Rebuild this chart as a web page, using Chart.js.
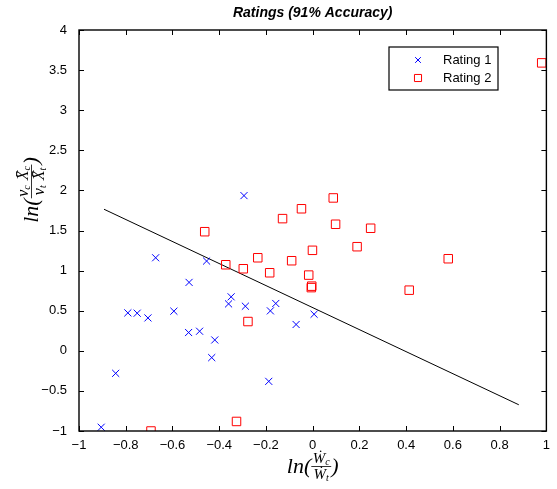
<!DOCTYPE html>
<html>
<head>
<meta charset="utf-8">
<script src="https://cdn.jsdelivr.net/npm/chart.js@4.4.1/dist/chart.umd.min.js"></script>
<style>
html, body { margin: 0; padding: 0; background: #fff; }
</style>
</head>
<body>
<canvas id="graph" width="557" height="489"></canvas>
<script>
// Rating 1 (blue crosses)
const rating1X = [-0.905, -0.843, -0.791, -0.751, -0.705, -0.672, -0.594, -0.531, -0.529, -0.484, -0.454,
                  -0.432, -0.419, -0.360, -0.349, -0.294, -0.288, -0.188, -0.181, -0.158, -0.071, 0.006];
const rating1Y = [-0.953, -0.281, 0.473, 0.469, 0.410, 1.160, 0.494, 0.228, 0.853, 0.244, 1.119,
                  -0.085, 0.135, 0.585, 0.673, 1.935, 0.556, -0.381, 0.498, 0.590, 0.328, 0.456];

// Rating 2 (red squares)
const rating2X = [-0.692, -0.326, -0.277, -0.462, -0.372, -0.297, -0.235, -0.184, -0.129, -0.090, -0.048,
                  -0.017, -0.006, -0.004, -0.001, 0.088, 0.098, 0.190, 0.248, 0.413, 0.580, 0.980];
const rating2Y = [-1.000, -0.881, 0.365, 1.485, 1.073, 1.023, 1.160, 0.973, 1.648, 1.123, 1.771,
                  0.944, 0.788, 0.806, 1.253, 1.906, 1.578, 1.298, 1.528, 0.756, 1.148, 3.590];

// separating line
const lineX = [-0.893, 0.882];
const lineY = [1.765, -0.673];

const seriesLabels = ['Rating 1', 'Rating 2'];
const titleText = 'Ratings (91% Accuracy)';

const toPoints = (xs, ys) => xs.map((v, i) => ({ x: v, y: ys[i] }));
const fmt = v => {
    const r = Math.round(v * 10) / 10;
    return String(r).replace('-', '\u2212');
};

// draws pieces of text one after another, returns total width
function runWidth(ctx, runs) {
    let w = 0;
    runs.forEach(r => { ctx.font = r.font; w += ctx.measureText(r.t).width + (r.gap || 0); });
    return w;
}
function drawRuns(ctx, runs, x, y) {
    runs.forEach(r => {
        ctx.font = r.font;
        ctx.fillText(r.t, x, y + (r.dy || 0));
        x += ctx.measureText(r.t).width + (r.gap || 0);
    });
    return x;
}
// ln( num / den )
function drawLnFrac(ctx, cx, cy, num, den) {
    const big = 'italic 22px "Liberation Serif"';
    const pre = [{ t: 'ln(', font: big }];
    const post = [{ t: ')', font: big }];
    const wPre = runWidth(ctx, pre), wPost = runWidth(ctx, post);
    const wNum = runWidth(ctx, num), wDen = runWidth(ctx, den);
    const wFrac = Math.max(wNum, wDen) + 3;
    const total = wPre + wFrac + wPost;
    let x = cx - total / 2;
    ctx.textBaseline = 'alphabetic';
    ctx.textAlign = 'left';
    drawRuns(ctx, pre, x, cy + 7);
    x += wPre;
    drawRuns(ctx, num, x + (wFrac - wNum) / 2, cy - 3);
    drawRuns(ctx, den, x + (wFrac - wDen) / 2, cy + 13);
    ctx.beginPath();
    ctx.lineWidth = 0.8;
    ctx.moveTo(x, cy + 0.5);
    ctx.lineTo(x + wFrac, cy + 0.5);
    ctx.stroke();
    x += wFrac;
    drawRuns(ctx, post, x, cy + 7);
}

const mid = 'italic 15px "Liberation Serif"';
const sub = 'italic 10px "Liberation Serif"';

const framePlugin = {
    id: 'frame',
    afterDraw(chart) {
        const { ctx, chartArea: a, scales } = chart;
        const sx = scales.x, sy = scales.y;
        ctx.save();
        ctx.strokeStyle = '#000';
        ctx.fillStyle = '#000';

        // box + inward ticks on all four sides
        ctx.lineWidth = 1.4;
        ctx.strokeRect(a.left, a.top, a.right - a.left, a.bottom - a.top);
        ctx.lineWidth = 1;
        ctx.beginPath();
        sx.ticks.forEach(t => {
            const px = Math.round(sx.getPixelForValue(t.value)) + 0.5;
            ctx.moveTo(px, a.bottom); ctx.lineTo(px, a.bottom - 5);
            ctx.moveTo(px, a.top); ctx.lineTo(px, a.top + 5);
        });
        sy.ticks.forEach(t => {
            const py = Math.round(sy.getPixelForValue(t.value)) + 0.5;
            ctx.moveTo(a.left, py); ctx.lineTo(a.left + 5, py);
            ctx.moveTo(a.right, py); ctx.lineTo(a.right - 5, py);
        });
        ctx.stroke();

        // title
        ctx.font = 'bold italic 14px "Liberation Sans"';
        ctx.textAlign = 'center';
        ctx.textBaseline = 'middle';
        ctx.fillText(titleText, (a.left + a.right) / 2, 13);

        // legend
        const lx = 389, ly = 47, lw = 109, lh = 43;
        ctx.fillStyle = '#fff';
        ctx.fillRect(lx, ly, lw, lh);
        ctx.lineWidth = 1.2;
        ctx.strokeRect(lx, ly, lw, lh);
        chart.data.datasets.slice(0, 2).forEach((ds, i) => {
            const yy = ly + 13 + i * 18;
            ctx.strokeStyle = ds.borderColor;
            ctx.fillStyle = 'rgba(0,0,0,0)';
            ctx.lineWidth = 1;
            Chart.helpers.drawPoint(ctx, { pointStyle: ds.pointStyle, radius: ds.pointRadius - 1, rotation: 0, borderWidth: 1 }, 418, yy);
            ctx.fillStyle = '#000';
            ctx.font = '13px "Liberation Sans"';
            ctx.textAlign = 'left';
            ctx.textBaseline = 'middle';
            ctx.fillText(ds.label, 443, yy);
        });

        // axis titles
        ctx.fillStyle = '#000';
        ctx.strokeStyle = '#000';
        drawLnFrac(ctx, (a.left + a.right) / 2, 466,
            [{ t: 'W\u0307', font: mid }, { t: 'c', font: sub, dy: 2 }],
            [{ t: 'W\u0307', font: mid }, { t: 't', font: sub, dy: 2 }]);
        ctx.save();
        ctx.translate(31, 190);
        ctx.rotate(-Math.PI / 2);
        const ymid = 'italic 16px "Liberation Serif"';
        drawLnFrac(ctx, 0, 0,
            [{ t: 'v', font: ymid }, { t: 'c', font: sub, dy: 2, gap: 5 }, { t: 'X\u0304', font: ymid }, { t: 'c', font: sub, dy: 2 }],
            [{ t: 'v', font: ymid }, { t: 't', font: sub, dy: 2, gap: 5 }, { t: 'X\u0304', font: ymid }, { t: 't', font: sub, dy: 2 }]);
        ctx.restore();
        ctx.restore();
    }
};

new Chart(document.getElementById('graph').getContext('2d'), {
    type: 'scatter',
    data: {
        datasets: [{
            label: seriesLabels[0],
            data: toPoints(rating1X, rating1Y),
            pointStyle: 'crossRot',
            pointRadius: 5,
            borderColor: '#0000ff',
            borderWidth: 1,
            showLine: false
        }, {
            label: seriesLabels[1],
            data: toPoints(rating2X, rating2Y),
            pointStyle: 'rect',
            pointRadius: 6,
            borderColor: '#ff0000',
            backgroundColor: 'rgba(0,0,0,0)',
            borderWidth: 1,
            showLine: false
        }, {
            label: 'boundary',
            data: toPoints(lineX, lineY),
            showLine: true,
            borderColor: '#000',
            borderWidth: 1,
            pointRadius: 0,
            fill: false
        }]
    },
    options: {
        responsive: false,
        animation: false,
        events: [],
        layout: { padding: { top: 30, right: 10, left: 0, bottom: 0 } },
        plugins: {
            legend: { display: false },
            title: { display: false },
            tooltip: { enabled: false }
        },
        scales: {
            x: {
                type: 'linear',
                min: -1, max: 1,
                grid: { display: false, drawTicks: false },
                border: { display: false },
                ticks: { stepSize: 0.2, padding: 7, color: '#000', font: { family: 'Liberation Sans', size: 13 }, callback: v => fmt(v), maxRotation: 0 },
                afterFit: s => { s.height = 58; }
            },
            y: {
                type: 'linear',
                min: -1, max: 4,
                grid: { display: false, drawTicks: false },
                border: { display: false },
                ticks: { stepSize: 0.5, padding: 12, color: '#000', font: { family: 'Liberation Sans', size: 13 }, callback: v => fmt(v) },
                afterFit: s => { s.width = 79; }
            }
        }
    },
    plugins: [framePlugin]
});
</script>
</body>
</html>
